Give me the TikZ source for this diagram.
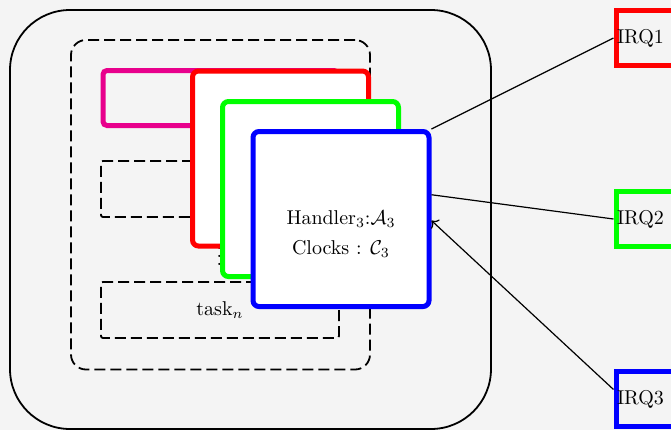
\documentclass[tikz,border=0pt]{standalone}
\usetikzlibrary{arrows.meta}
\definecolor{bg}{RGB}{244,244,244}
\definecolor{irqred}{RGB}{255,0,0}
\definecolor{irqgreen}{RGB}{0,255,0}
\definecolor{irqblue}{RGB}{0,0,255}
\definecolor{taskpink}{RGB}{232,0,140}
\tikzset{
  outerbox/.style={draw, line width=0.9pt, rounded corners=30pt, minimum width=240.5pt, minimum height=209.5pt, inner sep=0pt},
  groupbox/.style={draw, dash pattern=on 5.5pt off 2.5pt, line width=0.9pt, rounded corners=7.5pt, minimum width=149.5pt, minimum height=164.75pt, inner sep=0pt},
  taskbox/.style={draw, dash pattern=on 5.5pt off 2.5pt, line width=0.9pt, rounded corners=1pt, minimum width=119pt, minimum height=28pt, inner sep=0pt},
  activetask/.style={draw=taskpink, line width=2.5pt, rounded corners=2pt, minimum width=117.5pt, minimum height=27.5pt, inner sep=0pt},
  handlerbox/.style={draw=#1, fill=white, line width=2.5pt, rounded corners=3pt, minimum width=88pt, minimum height=87.5pt, inner sep=0pt},
  irqbox/.style={draw=#1, line width=2.5pt, anchor=west, minimum height=27.5pt, inner xsep=0.5pt, text width=32pt, align=left},
  wire/.style={line width=0.6pt},
}
\begin{document}
\begin{tikzpicture}[x=0.5pt, y=-0.5pt]
  \useasboundingbox (0,0) rectangle (671,430);
  \clip (0,0) rectangle (671,430);
  \fill[bg] (0,0) rectangle (671,430);

  % system and task group
  \node[outerbox] (system) at (250.5,219.5) {};
  \node[groupbox] (group) at (220.5,204.75) {};

  % tasks
  \node[taskbox] (task2) at (220,189) {};
  \node[taskbox] (taskn) at (220,310) {task$_n$};
  \node[anchor=base, inner sep=0pt] (dots) at (219.5,265) {$\vdots$};
  \node[activetask] (task1) at (220.5,98) {};

  % interrupt handlers
  \node[handlerbox=irqred] (h1) at (280.5,158.5) {};
  \node[handlerbox=irqgreen] (h2) at (310.5,189) {};
  \node[handlerbox=irqblue] (h3) at (341,219) {};
  \node[align=center, inner sep=0pt] (h3text) at (341,234)
    {Handler$_3$:$\mathcal{A}_3$\\[3pt]Clocks : $\mathcal{C}_3$};

  % interrupt sources
  \node[irqbox=irqred] (irq1) at (613.5,38) {IRQ1};
  \node[irqbox=irqgreen] (irq2) at (613.5,219) {IRQ2};
  \node[irqbox=irqblue] (irq3) at (613.5,399) {IRQ3};

  % connections
  \draw[wire] (irq1.west) -- (h3.north east);
  \draw[wire] (irq2.west) -- (h3.15);
  \draw[wire, ->] (irq3.165) -- (h3.-1);
\end{tikzpicture}
\end{document}
